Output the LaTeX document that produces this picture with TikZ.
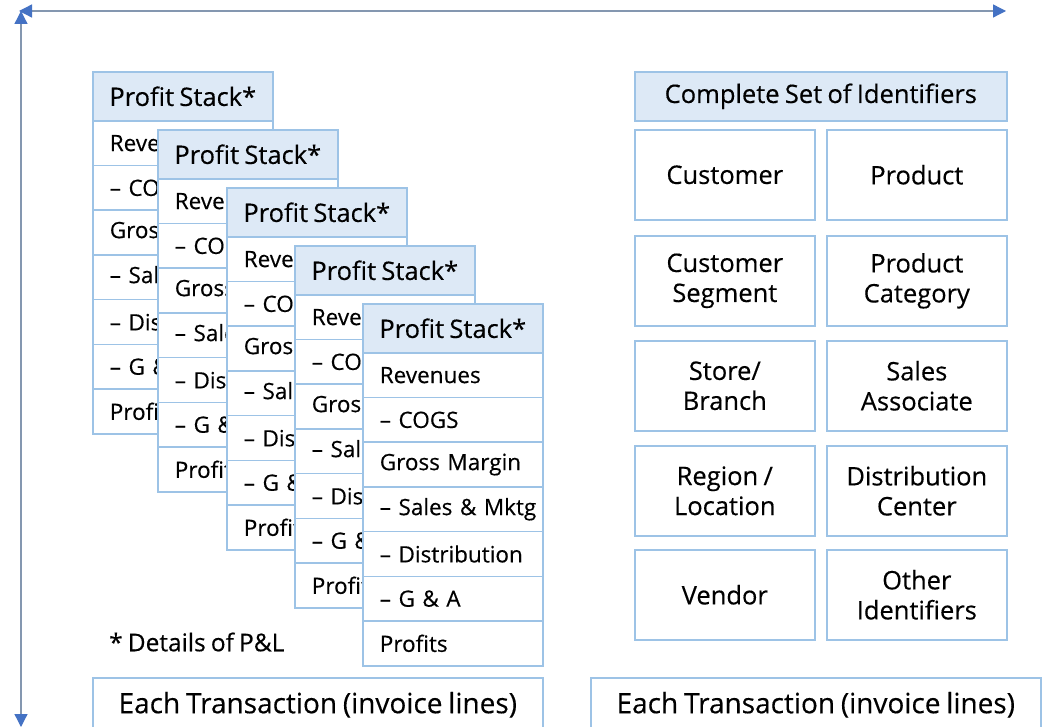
\documentclass[tikz,border=0pt]{standalone}
\usepackage{fontspec}
\setmainfont[FakeBold=0.35,WordSpace=0.8]{Open Sans}
\usetikzlibrary{arrows.meta,shadows}
\definecolor{edgeblue}{RGB}{157,195,230}
\definecolor{headfill}{RGB}{221,233,246}
\definecolor{axisgray}{RGB}{132,151,176}
\definecolor{tipblue}{RGB}{68,114,196}
\tikzset{
  card/.style={draw=edgeblue, line width=1.6pt, fill=white, inner sep=0pt,
    drop shadow={shadow xshift=1.3pt, shadow yshift=-1.3pt, fill=black!40, opacity=.45}},
  stackhead/.style={card, fill=headfill, anchor=north west, minimum width=180pt,
    minimum height=49pt, font=\fontsize{25.5}{29}\selectfont},
  stackrow/.style={card, anchor=north west, minimum height=44.7pt,
    text width=146pt, inner xsep=17pt, align=left, font=\fontsize{22.5}{25}\selectfont},
  idhead/.style={card, fill=headfill, anchor=north west, minimum width=372pt,
    minimum height=49pt, font=\fontsize{25.5}{29}\selectfont},
  idbox/.style={card, anchor=north west, minimum width=180pt, minimum height=90pt,
    align=center, font=\fontsize{25.5}{30}\selectfont},
  txbox/.style={card, anchor=north west, minimum height=54pt,
    font=\fontsize{28}{31}\selectfont},
  axisline/.style={draw=axisgray, line width=1.3pt,
    {Triangle[length=13pt,width=13pt,color=tipblue,fill=tipblue]}-{Triangle[length=13pt,width=13pt,color=tipblue,fill=tipblue]}},
}
\begin{document}
\begin{tikzpicture}[x=1pt,y=-1pt]
  \clip (0,0) rectangle (1043,727);
  \fill[white] (0,0) rectangle (1043,727);

  % axes
  \coordinate (vtop) at (21,11);
  \coordinate (vbot) at (21,727);
  \coordinate (hleft) at (19,11);
  \coordinate (hright) at (1006,11);
  \draw[axisline] (vbot) -- (vtop);
  \draw[axisline] (hleft) -- (hright);

  % fanned profit stacks, back to front
  \foreach \i/\x/\y in {1/92/71, 2/157/129, 3/226/187, 4/294/245, 5/362/303} {
    \node[stackhead] (s\i-h) at (\x,\y) {Profit Stack*};
    \foreach \t [count=\j] in {Revenues, -- COGS, Gross Margin, -- Sales \& Mktg,
                               -- Distribution, -- G \& A, Profits} {
      \node[stackrow] (s\i-r\j) at (\x, {\y+49+(\j-1)*44.7}) {\mbox{\t}};
    }
  }

  \node[anchor=west, font=\fontsize{24.5}{28}\selectfont, inner sep=0pt] (note) at (109,642) {* Details of P\&L};

  % identifier grid
  \node[idhead] (idh) at (634,71) {Complete Set of Identifiers};
  \node[idbox] (cust) at (634,129) {Customer};
  \node[idbox] (prod) at (826,129) {Product};
  \node[idbox] (cseg) at (634,235) {Customer\\Segment};
  \node[idbox] (pcat) at (826,235) {Product\\Category};
  \node[idbox] (store) at (634,340) {Store/\\Branch};
  \node[idbox] (assoc) at (826,340) {Sales\\Associate};
  \node[idbox] (region) at (634,445) {Region /\\Location};
  \node[idbox] (dist) at (826,445) {Distribution\\Center};
  \node[idbox] (vendor) at (634,549) {Vendor};
  \node[idbox] (other) at (826,549) {Other\\Identifiers};

  % transaction bars
  \node[txbox, minimum width=450pt] (txl) at (92,677) {Each Transaction (invoice lines)};
  \node[txbox, minimum width=450pt] (txr) at (590,677) {Each Transaction (invoice lines)};
\end{tikzpicture}
\end{document}
